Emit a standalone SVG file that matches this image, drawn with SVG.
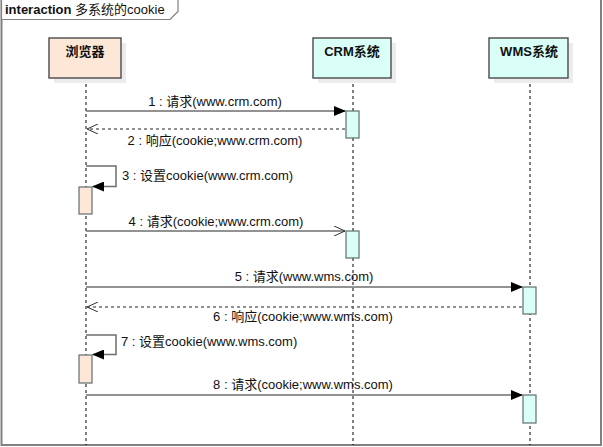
<svg xmlns="http://www.w3.org/2000/svg" width="603" height="447" viewBox="0 0 603 447">
<style>
text{font-family:"Liberation Sans","Noto Sans CJK SC",sans-serif;font-size:13px;fill:#111}
.head{font-size:13px;font-weight:bold;text-anchor:middle}
.lbl{text-anchor:middle}
.frame{fill:none;stroke:#808080;stroke-width:2}
.shadow{fill:#ececec}
.box{stroke:#555;stroke-width:1.5}
.b{fill:#fde8d8}
.s{fill:#d9fff7}
.life{stroke:#000;stroke-width:1;stroke-dasharray:3,3}
.msg{fill:none;stroke:#6e6e6e;stroke-width:1.5}
.ret{fill:none;stroke:#6e6e6e;stroke-width:1.5;stroke-dasharray:3,3}
.act{stroke:#5f6f6f;stroke-width:1.2}
</style>
<defs>
<marker id="fill" markerWidth="12" markerHeight="10" refX="11" refY="5" orient="auto" markerUnits="userSpaceOnUse">
<path d="M0,0 L12,5 L0,10 Z" fill="#000"/>
</marker>
<marker id="open" markerWidth="12" markerHeight="10" refX="11" refY="5" orient="auto" markerUnits="userSpaceOnUse">
<path d="M0,0 L11,5 L0,10" fill="none" stroke="#333" stroke-width="1"/>
</marker>
</defs>
<rect width="603" height="447" fill="#fff"/>
<g id="frame">
<path class="frame" d="M1.5,0 V445 H601 V0"/>
<path fill="#fff" stroke="#808080" stroke-width="1.2" d="M1.5,0 V19.5 H170 L178,11.5 V0"/>
<text x="5" y="14" style="font-size:13px"><tspan font-weight="bold">interaction</tspan> 多系统的cookie</text>
</g>
<g id="lifelines">
<line class="life" x1="86" y1="78" x2="86" y2="445"/>
<line class="life" x1="353" y1="78" x2="353" y2="445"/>
<line class="life" x1="530" y1="78" x2="530" y2="445"/>
</g>
<g id="browser">
<rect class="shadow" x="54" y="43" width="72" height="40"/>
<rect class="box b" x="49" y="38" width="72" height="40"/>
<text class="head" x="85" y="56">浏览器</text>
</g>
<g id="crm">
<rect class="shadow" x="318" y="43" width="78" height="40"/>
<rect class="box s" x="313" y="38" width="78" height="40"/>
<text class="head" x="352" y="56">CRM系统</text>
</g>
<g id="wms">
<rect class="shadow" x="494" y="43" width="79" height="40"/>
<rect class="box s" x="489" y="38" width="79" height="40"/>
<text class="head" x="529" y="56">WMS系统</text>
</g>
<g id="activations">
<rect class="act s" x="346" y="111" width="13" height="27"/>
<rect class="act b" x="79" y="187" width="13" height="27"/>
<rect class="act s" x="346" y="231" width="13" height="27"/>
<rect class="act s" x="523" y="287" width="13" height="27"/>
<rect class="act b" x="79" y="355" width="13" height="28"/>
<rect class="act s" x="523" y="395" width="13" height="28"/>
</g>
<g id="connectors">
<line class="msg" x1="86" y1="111" x2="345" y2="111" marker-end="url(#fill)"/>
<line class="ret" x1="345" y1="129" x2="87" y2="129" marker-end="url(#open)"/>
<polyline class="msg" points="86,166 116,166 116,186.5 93,186.5" marker-end="url(#fill)"/>
<line class="msg" x1="86" y1="231" x2="345" y2="231" marker-end="url(#open)"/>
<line class="msg" x1="86" y1="287" x2="522" y2="287" marker-end="url(#fill)"/>
<line class="ret" x1="522" y1="307" x2="87" y2="307" marker-end="url(#open)"/>
<polyline class="msg" points="86,335 116,335 116,354.5 93,354.5" marker-end="url(#fill)"/>
<line class="msg" x1="86" y1="395" x2="522" y2="395" marker-end="url(#fill)"/>
</g>
<g id="labels">
<text class="lbl" x="215" y="106">1 : 请求(www.crm.com)</text>
<text class="lbl" x="215" y="145">2 : 响应(cookie;www.crm.com)</text>
<text x="122" y="180">3 : 设置cookie(www.crm.com)</text>
<text class="lbl" x="216" y="226">4 : 请求(cookie;www.crm.com)</text>
<text class="lbl" x="304" y="281">5 : 请求(www.wms.com)</text>
<text class="lbl" x="303" y="321">6 : 响应(cookie;www.wms.com)</text>
<text x="121" y="346">7 : 设置cookie(www.wms.com)</text>
<text class="lbl" x="303" y="389">8 : 请求(cookie;www.wms.com)</text>
</g>
</svg>
